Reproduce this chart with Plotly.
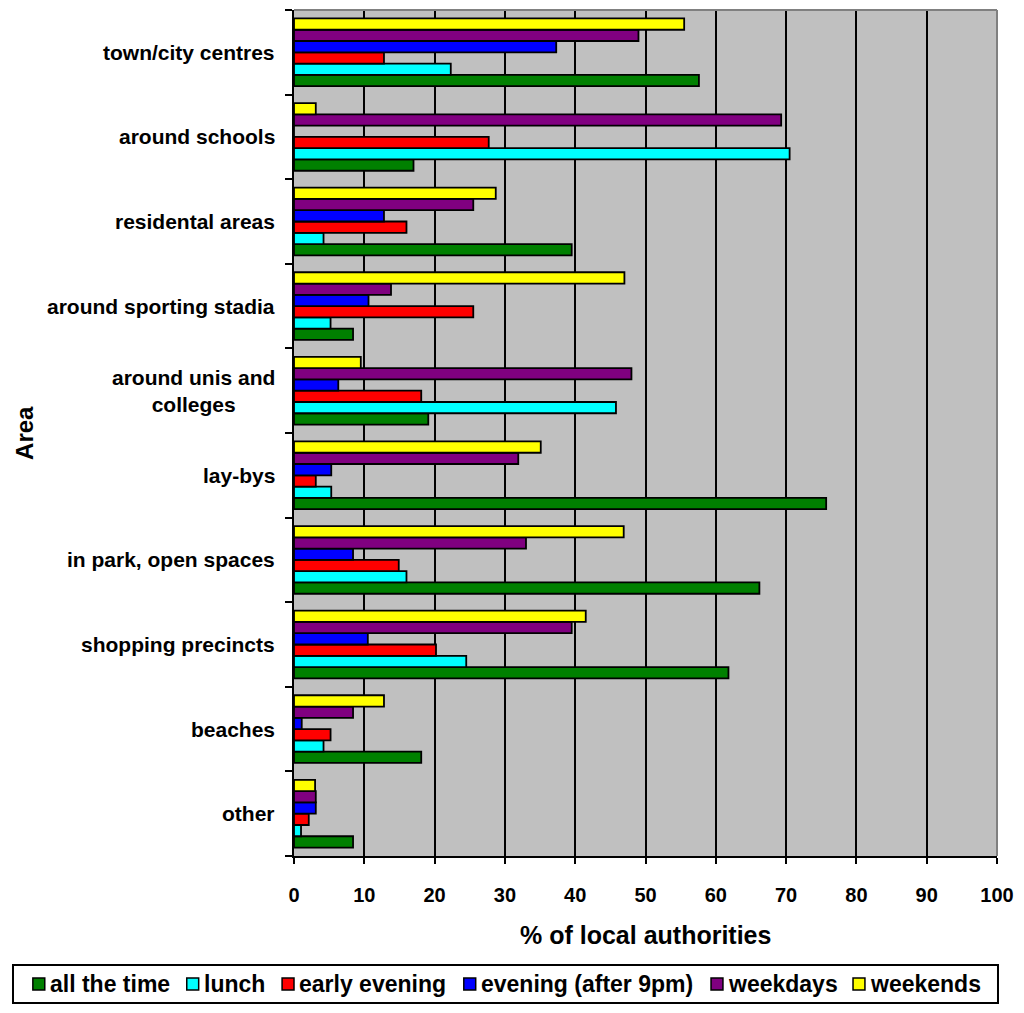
import plotly.graph_objects as go

# Areas, listed top to bottom as they appear on the chart
areas = [
    "town/city centres",
    "around schools",
    "residental areas",
    "around sporting stadia",
    "around unis and<br>colleges",
    "lay-bys",
    "in park, open spaces",
    "shopping precincts",
    "beaches",
    "other",
]

series_names = ["all the time", "lunch", "early evening",
                "evening (after 9pm)", "weekdays", "weekends"]
series_colors = ["#008000", "#00FFFF", "#FF0000", "#0000FF", "#800080", "#FFFF00"]

# % of local authorities, one list per time period (same order as areas)
all_the_time = [57.6, 17.0, 39.5, 8.4, 19.1, 75.7, 66.2, 61.8, 18.1, 8.4]
lunch = [22.3, 70.5, 4.2, 5.2, 45.8, 5.3, 16.0, 24.5, 4.2, 1.0]
early_evening = [12.8, 27.7, 16.0, 25.5, 18.1, 3.1, 14.9, 20.2, 5.2, 2.1]
evening_after_9pm = [37.3, 0.0, 12.8, 10.6, 6.3, 5.3, 8.4, 10.5, 1.1, 3.1]
weekdays = [49.0, 69.3, 25.5, 13.8, 48.0, 31.9, 33.0, 39.5, 8.4, 3.1]
weekends = [55.5, 3.1, 28.7, 47.0, 9.5, 35.1, 46.9, 41.5, 12.8, 3.0]

x_ticks = list(range(0, 101, 10))

series_values = [all_the_time, lunch, early_evening,
                 evening_after_9pm, weekdays, weekends]

FONT = "Arial, Liberation Sans, sans-serif"
W, H = 1024, 1013
ML, MR, MT, MB = 294, 22, 10, 157
PW, PH = W - ML - MR, H - MT - MB


def px_x(px):
    return (px - ML) / PW


def px_y(py):
    return (H - MB - py) / PH


fig = go.Figure()
for name, color, vals in zip(series_names, series_colors, series_values):
    fig.add_trace(go.Bar(
        y=areas, x=vals, name=name, orientation="h",
        marker=dict(color=color, line=dict(color="black", width=1.8)),
        showlegend=False,
    ))

annotations = []
# category labels, centred text block right-aligned to the axis
for a in areas:
    annotations.append(dict(
        text=f"<b>{a}</b>", xref="paper", yref="y", x=0, y=a,
        xanchor="right", yanchor="middle", xshift=-17, align="center",
        showarrow=False, font=dict(family=FONT, size=21, color="black"),
    ))

# axis titles
annotations.append(dict(
    text="<b>% of local authorities</b>", xref="paper", yref="paper",
    x=0.5, y=px_y(935), xanchor="center", yanchor="middle",
    showarrow=False, font=dict(family=FONT, size=25, color="black"),
))
annotations.append(dict(
    text="<b>Area</b>", xref="paper", yref="paper",
    x=px_x(22), y=px_y(433), xanchor="center", yanchor="middle",
    textangle=-90, showarrow=False,
    font=dict(family=FONT, size=24, color="black"),
))

shapes = [
    # grey plot-area border on top and right
    dict(type="line", xref="paper", yref="paper", x0=0, x1=1, y0=1, y1=1,
         line=dict(color="#808080", width=2), layer="above"),
    dict(type="line", xref="paper", yref="paper", x0=1, x1=1, y0=0, y1=1,
         line=dict(color="#808080", width=2), layer="above"),
    # legend box
    dict(type="rect", xref="paper", yref="paper",
         x0=px_x(11), x1=px_x(1003), y0=px_y(1003), y1=px_y(965),
         line=dict(color="black", width=2), fillcolor="white", layer="above"),
]

# legend entries
legend_x = [31, 186, 282, 465, 714, 857]
legend_cy = 984
sq = 12
for name, color, lx in zip(series_names, series_colors, legend_x):
    shapes.append(dict(
        type="rect", xref="paper", yref="paper",
        x0=px_x(lx), x1=px_x(lx + sq),
        y0=px_y(legend_cy + sq / 2), y1=px_y(legend_cy - sq / 2),
        fillcolor=color, line=dict(color="black", width=1.5), layer="above",
    ))
    annotations.append(dict(
        text=f"<b>{name}</b>", xref="paper", yref="paper",
        x=px_x(lx + sq + 3), y=px_y(legend_cy), xanchor="left",
        yanchor="middle", showarrow=False,
        font=dict(family=FONT, size=23, color="black"),
    ))

fig.update_layout(
    width=W, height=H,
    margin=dict(l=ML, r=MR, t=MT, b=MB, pad=0),
    barmode="group", bargap=0.2, bargroupgap=0,
    plot_bgcolor="#C0C0C0", paper_bgcolor="white",
    font=dict(family=FONT, color="black"),
    annotations=annotations, shapes=shapes,
    showlegend=False,
)

fig.update_xaxes(
    range=[0, 100], tickvals=x_ticks, ticktext=[str(v) for v in x_ticks],
    showgrid=True, gridcolor="black", gridwidth=2,
    showline=True, linecolor="black", linewidth=2,
    ticks="outside", ticklen=6, tickwidth=2, tickcolor="black",
    tickfont=dict(family=FONT, size=20, color="black", weight="bold"),
    ticklabelstandoff=14, zeroline=False, fixedrange=True,
)
fig.update_yaxes(
    type="category", categoryorder="array", categoryarray=areas[::-1],
    range=[-0.5, len(areas) - 0.5],
    showticklabels=False, showgrid=False,
    showline=True, linecolor="black", linewidth=2,
    ticks="outside", tickson="boundaries", ticklen=7, tickwidth=2,
    tickcolor="black", zeroline=False, fixedrange=True,
)

fig.write_html("out.html")
